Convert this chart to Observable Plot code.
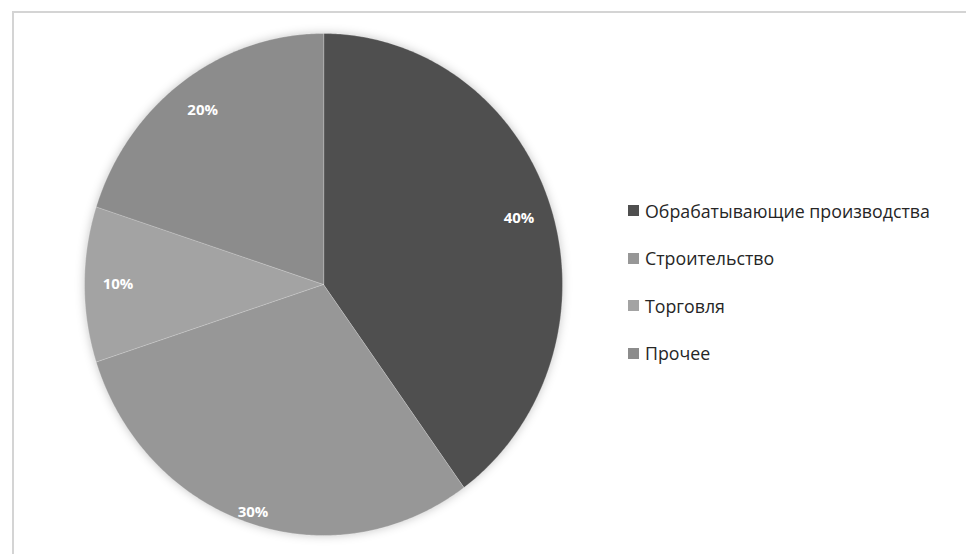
<!DOCTYPE html>
<html><head><meta charset="utf-8">
<script src="https://cdn.jsdelivr.net/npm/d3@7"></script>
<script src="https://cdn.jsdelivr.net/npm/@observablehq/plot@0.6"></script>
<style>
body{margin:0;background:#fff;}
#wrap{position:relative;width:966px;height:554px;overflow:hidden;background:#fff;}
#border{position:absolute;left:12px;top:11px;width:1000px;height:600px;border-left:2px solid #d4d4d4;border-top:2px solid #d4d4d4;}
#chart{position:absolute;left:0;top:0;}
#legend{position:absolute;left:628px;top:187px;font-family:"Open Sans",sans-serif;font-size:17.8px;color:#262626;}
.item{display:flex;align-items:center;height:47.5px;}
.sw{width:11px;height:11px;margin-right:6px;}
</style></head><body>
<div id="wrap"><div id="border"></div><div id="chart"></div><div id="legend"></div></div>
<script>
const categories = ["Обрабатывающие производства", "Строительство", "Торговля", "Прочее"];
const shares = [40, 30, 10, 20];
const labels = ["40%", "30%", "10%", "20%"];
const colors = ["#4f4f4f", "#979797", "#a3a3a3", "#8c8c8c"];

// label placement (layout, not data)
const labelRadius = i => (i === 1 ? 0.955 : 0.86);

const arcs = d3.pie().sort(null).value((d, i) => shares[i])(categories);
const points = [];
arcs.forEach((a, i) => {
  points.push({cat: categories[i], x: 0, y: 0});
  const steps = Math.max(2, Math.ceil((a.endAngle - a.startAngle) / 0.01));
  for (let k = 0; k <= steps; k++) {
    const t = a.startAngle + (a.endAngle - a.startAngle) * k / steps;
    points.push({cat: categories[i], x: Math.sin(t), y: Math.cos(t)});
  }
});
const labelData = arcs.map((a, i) => {
  const m = (a.startAngle + a.endAngle) / 2;
  const r = labelRadius(i);
  return {text: labels[i], x: r * Math.sin(m), y: r * Math.cos(m)};
});

const chart = Plot.plot({
  width: 966, height: 554,
  marginTop: 0, marginRight: 0, marginBottom: 0, marginLeft: 0,
  style: {background: "transparent", overflow: "visible"},
  x: {domain: [-1, 1], range: [84, 562], axis: null},
  y: {domain: [-1, 1], range: [535, 33], axis: null},
  color: {domain: categories, range: colors, type: "ordinal"},
  marks: [
    Plot.line(points, {x: "x", y: "y", z: "cat", fill: "cat", stroke: "#ffffff", strokeOpacity: 0.25, strokeWidth: 1, curve: "linear-closed"}),
    Plot.text(labelData, {x: "x", y: "y", text: "text", fill: "white", fontWeight: "bold", fontSize: 15, fontFamily: "Open Sans"})
  ]
});
const lineG = chart.querySelector('g[aria-label="line"]');
if (lineG) lineG.style.filter = "drop-shadow(0 0 5px rgba(0,0,0,0.22))";
document.getElementById("chart").appendChild(chart);

const legend = document.getElementById("legend");
categories.forEach((c, i) => {
  const it = document.createElement("div"); it.className = "item";
  const sw = document.createElement("div"); sw.className = "sw"; sw.style.background = colors[i];
  const tx = document.createElement("span"); tx.textContent = c;
  it.appendChild(sw); it.appendChild(tx); legend.appendChild(it);
});
</script>
</body></html>
